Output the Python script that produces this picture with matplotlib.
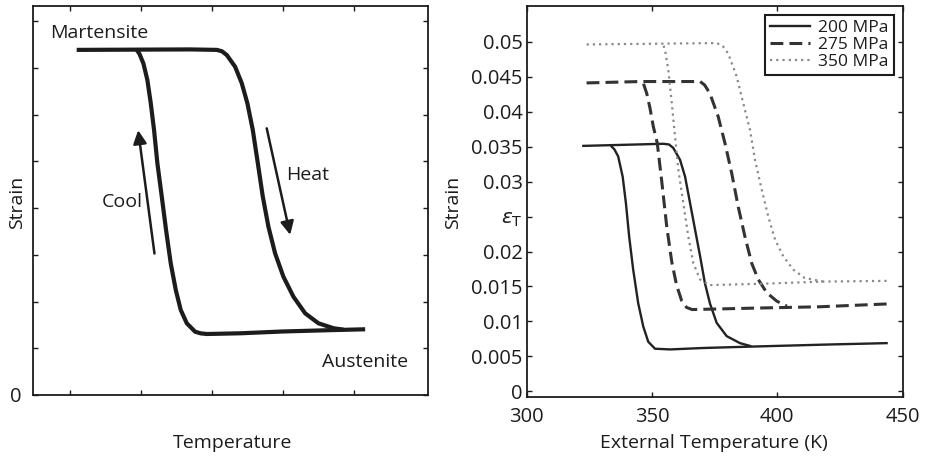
import matplotlib
matplotlib.use("Agg")
import matplotlib.pyplot as plt

plt.rcParams["font.family"] = ["Open Sans", "DejaVu Sans"]
plt.rcParams["mathtext.fontset"] = "dejavusans"

# ── Data: left schematic (arbitrary units) ───────────────────────────────────
heat_x = [1.095, 2.69, 3.067, 3.14, 3.208, 3.325, 3.419, 3.498, 3.574, 3.645, 3.715,
          3.794, 3.888, 4.005, 4.146, 4.311, 4.498, 4.71, 4.85]
heat_y = [7.39, 7.40, 7.39, 7.36, 7.28, 7.03, 6.675, 6.246, 5.675, 4.961, 4.246,
          3.604, 3.034, 2.533, 2.105, 1.749, 1.535, 1.43, 1.40]
cool_x = [5.156, 4.71, 4.00, 3.395, 2.926, 2.84, 2.762, 2.645, 2.560, 2.490, 2.419,
          2.353, 2.293, 2.231, 2.184, 2.138, 2.090, 2.034, 1.98, 1.941]
cool_y = [1.407, 1.39, 1.36, 1.321, 1.306, 1.32, 1.355, 1.535, 1.820, 2.248, 2.820,
          3.533, 4.246, 4.961, 5.675, 6.246, 6.745, 7.10, 7.30, 7.39]

# ── Data: right, strain vs external temperature ──────────────────────────────
pressures = ["200 MPa", "275 MPa", "350 MPa"]

t200_heat = [322.6, 354.5, 356.8, 358.5, 361.2, 363.2, 365.2, 367.2, 369.2, 371.1,
             373.1, 375.8, 379.8, 385.1, 389.1]
e200_heat = [0.0351, 0.0354, 0.0353, 0.0348, 0.0331, 0.0307, 0.0269, 0.0231, 0.0193, 0.0155,
             0.0126, 0.0098, 0.0079, 0.0069, 0.0065]
t200_cool = [443.6, 420.0, 389.1, 370.0, 357.2, 351.2, 348.5, 346.5, 344.5, 342.5,
             340.9, 339.6, 338.3, 336.5, 335.0, 333.9]
e200_cool = [0.0069, 0.0067, 0.0064, 0.0062, 0.0060, 0.0061, 0.0071, 0.0093, 0.0126, 0.0174,
             0.0221, 0.0269, 0.0307, 0.0336, 0.0346, 0.0350]

t275_heat = [323.9, 345.2, 369.2, 371.0, 373.1, 376.4, 379.1, 381.8, 384.4, 387.1,
             389.8, 392.4, 395.8, 399.8, 403.8]
e275_heat = [0.0441, 0.0443, 0.0443, 0.0438, 0.0426, 0.0393, 0.0355, 0.0312, 0.0264, 0.0221,
             0.0183, 0.0160, 0.0141, 0.0129, 0.0122]
t275_cool = [443.6, 417.0, 390.0, 366.0, 363.8, 361.8, 359.8, 357.9, 355.9, 353.9,
             352.1, 350.5, 349.2, 347.9, 346.5]
e275_cool = [0.0125, 0.0121, 0.0119, 0.0117, 0.0120, 0.0130, 0.0152, 0.0185, 0.0235, 0.0300,
             0.0355, 0.0379, 0.0405, 0.0426, 0.0441]

t350_heat = [323.9, 375.8, 378.2, 380.4, 383.8, 386.4, 389.1, 391.1, 393.8, 396.4,
             399.1, 402.4, 406.4, 411.0, 418.3]
e350_heat = [0.0496, 0.0498, 0.0494, 0.0483, 0.0450, 0.0412, 0.0374, 0.0331, 0.0288, 0.0250,
             0.0217, 0.0193, 0.0174, 0.0162, 0.0157]
t350_cool = [443.6, 418.3, 395.0, 373.1, 369.2, 366.5, 364.5, 362.5, 360.5, 359.2,
             357.9, 356.5, 355.4, 354.5]
e350_cool = [0.0158, 0.0157, 0.0154, 0.0152, 0.0160, 0.0183, 0.0221, 0.0269, 0.0317, 0.0364,
             0.0412, 0.0460, 0.0484, 0.0496]

ytick_vals = [0, 0.005, 0.01, 0.015, 0.02, 0.025, 0.03, 0.035, 0.04, 0.045, 0.05]
ytick_text = ["0", "0.005", "0.01", "0.015", "0.02", r"$\varepsilon_{\mathrm{T}}$",
              "0.03", "0.035", "0.04", "0.045", "0.05"]

INK = "#1c1c1c"

fig = plt.figure(figsize=(9.32, 4.57), dpi=100)
axL = fig.add_axes([0.0354, 0.1357, 0.4238, 0.8512])
axR = fig.add_axes([0.5651, 0.1313, 0.4034, 0.8556])

for ax in (axL, axR):
    for sp in ax.spines.values():
        sp.set_color(INK)
        sp.set_linewidth(1.3)
    ax.tick_params(direction="in", top=True, right=True, length=3.5,
                   width=1.0, color=INK, labelsize=14.5, labelcolor=INK)

# ── Left panel ───────────────────────────────────────────────────────────────
axL.plot(heat_x, heat_y, color=INK, lw=3.0, solid_capstyle="butt", solid_joinstyle="round")
axL.plot(cool_x, cool_y, color=INK, lw=3.0, solid_capstyle="butt", solid_joinstyle="round")
axL.set_xlim(0.48, 6.04)
axL.set_ylim(0, 8.33)
axL.set_xticks([1, 2, 3, 4, 5])
axL.set_xticklabels([])
axL.set_yticks(range(9))
axL.set_yticklabels(["0"] + [""] * 8)
axL.tick_params(axis="y", pad=8)

arrow = dict(arrowstyle="-|>", lw=1.8, color=INK, mutation_scale=20, shrinkA=0, shrinkB=0)
axL.annotate("", xy=(1.96, 5.67), xytext=(2.19, 3.03), arrowprops=arrow)
axL.annotate("", xy=(4.10, 3.43), xytext=(3.77, 5.71), arrowprops=arrow)
axL.text(0.72, 7.75, "Martensite", fontsize=14, color=INK, ha="left", va="center")
axL.text(4.35, 4.71, "Heat", fontsize=14, color=INK, ha="center", va="center")
axL.text(1.73, 4.14, "Cool", fontsize=14, color=INK, ha="center", va="center")
axL.text(5.16, 0.71, "Austenite", fontsize=14, color=INK, ha="center", va="center")

axL.set_xlabel("Temperature", fontsize=14, color=INK, va="center")
axL.xaxis.set_label_coords(0.504, -0.123)
axL.set_ylabel("Strain", fontsize=14, color=INK, va="center")
axL.yaxis.set_label_coords(-0.041, 0.494)

# ── Right panel ──────────────────────────────────────────────────────────────
solid = dict(color="#222222", lw=1.7, ls="-")
dashed = dict(color="#333333", lw=2.2, ls=(0, (4.2, 2.0)))
dotted = dict(color="#8a8a8a", lw=1.6, ls=(0, (1.0, 1.8)))

axR.plot(t200_heat, e200_heat, label=pressures[0], **solid)
axR.plot(t200_cool, e200_cool, **solid)
axR.plot(t275_heat, e275_heat, label=pressures[1], **dashed)
axR.plot(t275_cool, e275_cool, **dashed)
axR.plot(t350_heat, e350_heat, label=pressures[2], **dotted)
axR.plot(t350_cool, e350_cool, **dotted)

axR.set_xlim(300, 450)
axR.set_ylim(-0.0008, 0.0551)
axR.set_xticks([300, 350, 400, 450])
axR.set_yticks(ytick_vals)
axR.set_yticklabels(ytick_text)
axR.tick_params(axis="x", pad=7)
axR.tick_params(axis="y", pad=3)

leg = axR.legend(loc="upper right", fontsize=12.5, frameon=True, fancybox=False,
                 framealpha=1, edgecolor=INK, borderaxespad=0.5, borderpad=0.3,
                 labelspacing=0.05, handlelength=2.3, handletextpad=0.5)
leg.get_frame().set_linewidth(1.5)
for t in leg.get_texts():
    t.set_color(INK)

axR.set_xlabel("External Temperature (K)", fontsize=14, color=INK, va="center")
axR.xaxis.set_label_coords(0.498, -0.1176)
axR.set_ylabel("Strain", fontsize=14, color=INK, va="center")
axR.yaxis.set_label_coords(-0.196, 0.499)

fig.savefig("out.png", dpi=100, facecolor="white")
